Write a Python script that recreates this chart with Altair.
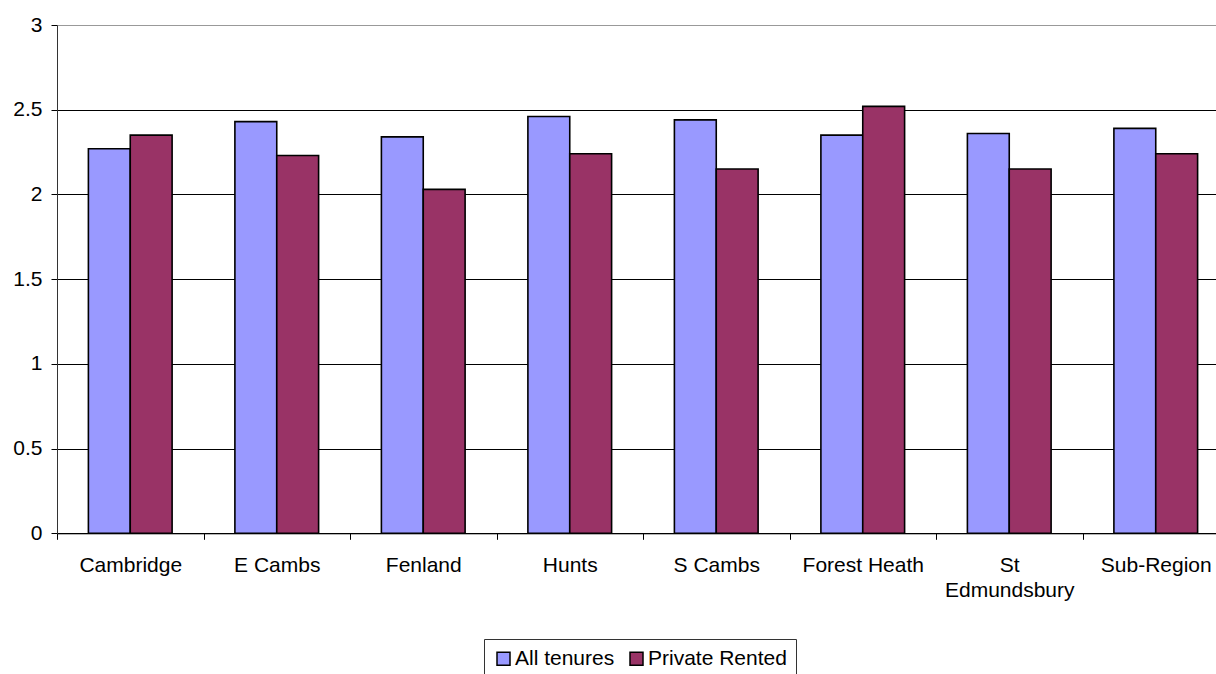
import altair as alt
import pandas as pd

# Average household size by district
areas = ["Cambridge", "E Cambs", "Fenland", "Hunts", "S Cambs",
         "Forest Heath", "St Edmundsbury", "Sub-Region"]
all_tenures = [2.27, 2.43, 2.34, 2.46, 2.44, 2.35, 2.36, 2.39]
private_rented = [2.35, 2.23, 2.03, 2.24, 2.15, 2.52, 2.15, 2.24]
series = ["All tenures", "Private Rented"]
series_colors = ["#9999FF", "#993366"]
y_ticks = [0, 0.5, 1, 1.5, 2, 2.5, 3]

rows = []
for area, a, p in zip(areas, all_tenures, private_rented):
    rows.append({"area": area, "tenure": series[0], "size": a})
    rows.append({"area": area, "tenure": series[1], "size": p})
df = pd.DataFrame(rows)

FONT = "Liberation Sans"

bars = alt.Chart(df).mark_bar(
    stroke="#000000", strokeWidth=1.6
).encode(
    x=alt.X(
        "area:N", sort=areas, title=None,
        scale=alt.Scale(range=[0, 1172], paddingInner=0, paddingOuter=0),
        axis=alt.Axis(
            tickBand="extent", tickSize=6, tickColor="#000000",
            domainColor="#000000", labelAngle=0, labelPadding=15,
            labelExpr="datum.label == 'St Edmundsbury' ? ['St', 'Edmundsbury'] : datum.label",
            labelLineHeight=25, labelBaseline="top",
        ),
    ),
    xOffset=alt.XOffset(
        "tenure:N", sort=series,
        scale=alt.Scale(paddingInner=0, paddingOuter=0.75),
    ),
    y=alt.Y(
        "size:Q", title=None,
        scale=alt.Scale(domain=[0, 3], nice=False),
        axis=alt.Axis(
            values=y_ticks, format="~g", grid=True,
            gridColor=alt.ExprRef("datum.value == 3 ? '#999999' : '#000000'"),
            gridWidth=1, tickSize=6, tickColor="#000000",
            domainColor="#333333", labelPadding=9,
        ),
    ),
    color=alt.Color(
        "tenure:N", sort=series,
        scale=alt.Scale(domain=series, range=series_colors),
        legend=alt.Legend(
            title=None, orient="none", direction="horizontal",
            legendX=427, legendY=614,
            strokeColor="#333333", fillColor="#FFFFFF", padding=9,
            symbolType="square", symbolSize=169,
            symbolStrokeColor="#000000", symbolStrokeWidth=1.5,
            symbolOpacity=1, labelOffset=1, columnPadding=11,
        ),
    ),
)

chart = bars.properties(
    width=1159, height=508.3,
    autosize=alt.AutoSizeParams(type="none"),
    padding={"left": 57, "top": 25, "right": 0, "bottom": 140.7},
).configure_view(
    strokeWidth=0
).configure_axis(
    labelFont=FONT, labelFontSize=21, labelColor="#000000",
).configure_legend(
    labelFont=FONT, labelFontSize=21, labelColor="#000000",
)

chart.save("out.html", embed_options={"renderer": "svg", "actions": False})
